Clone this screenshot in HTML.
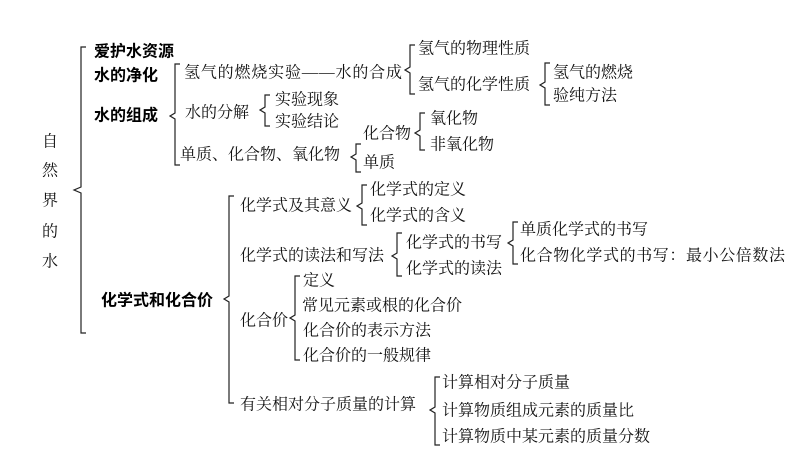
<!DOCTYPE html>
<html><head><meta charset="utf-8"><style>
html,body{margin:0;padding:0;background:#fff;}
svg{display:block}
text{font-family:"Liberation Serif","Noto Serif CJK SC",serif;font-size:16px;fill:#111;dominant-baseline:central}
.b{font-family:"Liberation Sans","Noto Sans CJK SC",sans-serif;font-weight:bold;fill:#000}
path{fill:none;stroke:#222;stroke-width:1.2}
</style></head><body>
<svg width="800" height="450" viewBox="0 0 800 450">
<path d="M86 47 L81 47 L81 187 L74 190 L81 193 L81 333 L86 333"/>
<path d="M180 64 L175 64 L175 113 L170 116 L175 119 L175 165 L180 165"/>
<path d="M415 45 L410 45 L410 67 L405 70 L410 73 L410 94 L415 94"/>
<path d="M550 63 L545 63 L545 82 L540 85 L545 88 L545 105 L550 105"/>
<path d="M270 95 L265 95 L265 107 L260 110 L265 113 L265 126 L270 126"/>
<path d="M361 144 L356 144 L356 154 L351 157 L356 160 L356 172 L361 172"/>
<path d="M425 113 L420 113 L420 130 L415 133 L420 136 L420 150 L425 150"/>
<path d="M234 196 L229 196 L229 296 L224 299 L229 302 L229 403 L234 403"/>
<path d="M367 185 L362 185 L362 203 L357 206 L362 209 L362 225 L367 225"/>
<path d="M402 233 L397 233 L397 253 L392 256 L397 259 L397 276 L402 276"/>
<path d="M518 222 L513 222 L513 240 L508 243 L513 246 L513 264 L518 264"/>
<path d="M300 276 L295 276 L295 315 L290 318 L295 321 L295 360 L300 360"/>
<path d="M440 377 L435 377 L435 407 L430 410 L435 413 L435 445 L440 445"/>

<text x="42" y="142">自</text>
<text x="42" y="171">然</text>
<text x="42" y="201">界</text>
<text x="42" y="232">的</text>
<text x="42" y="262">水</text>

<text class="b" x="94" y="52">爱护水资源</text>
<text class="b" x="94" y="76">水的净化</text>
<text class="b" x="94" y="116">水的组成</text>
<text class="b" x="101" y="301">化学式和化合价</text>

<text x="184" y="73" textLength="218">氢气的燃烧实验——水的合成</text>
<text x="418" y="49">氢气的物理性质</text>
<text x="418" y="85">氢气的化学性质</text>
<text x="553" y="73">氢气的燃烧</text>
<text x="553" y="96">验纯方法</text>
<text x="185" y="113">水的分解</text>
<text x="275" y="100">实验现象</text>
<text x="275" y="122">实验结论</text>
<text x="180" y="155">单质、化合物、氧化物</text>
<text x="363" y="134">化合物</text>
<text x="363" y="163">单质</text>
<text x="430" y="119">氧化物</text>
<text x="430" y="145">非氧化物</text>

<text x="240" y="206">化学式及其意义</text>
<text x="370" y="190">化学式的定义</text>
<text x="370" y="216">化学式的含义</text>
<text x="240" y="256">化学式的读法和写法</text>
<text x="406" y="243">化学式的书写</text>
<text x="406" y="269">化学式的读法</text>
<text x="520" y="230">单质化学式的书写</text>
<text x="520" y="256" textLength="265">化合物化学式的书写：最小公倍数法</text>
<text x="240" y="321">化合价</text>
<text x="303" y="281">定义</text>
<text x="302" y="306">常见元素或根的化合价</text>
<text x="303" y="331">化合价的表示方法</text>
<text x="303" y="356">化合价的一般规律</text>
<text x="240" y="405">有关相对分子质量的计算</text>
<text x="442" y="383">计算相对分子质量</text>
<text x="442" y="411">计算物质组成元素的质量比</text>
<text x="442" y="437">计算物质中某元素的质量分数</text>
</svg>
</body></html>
